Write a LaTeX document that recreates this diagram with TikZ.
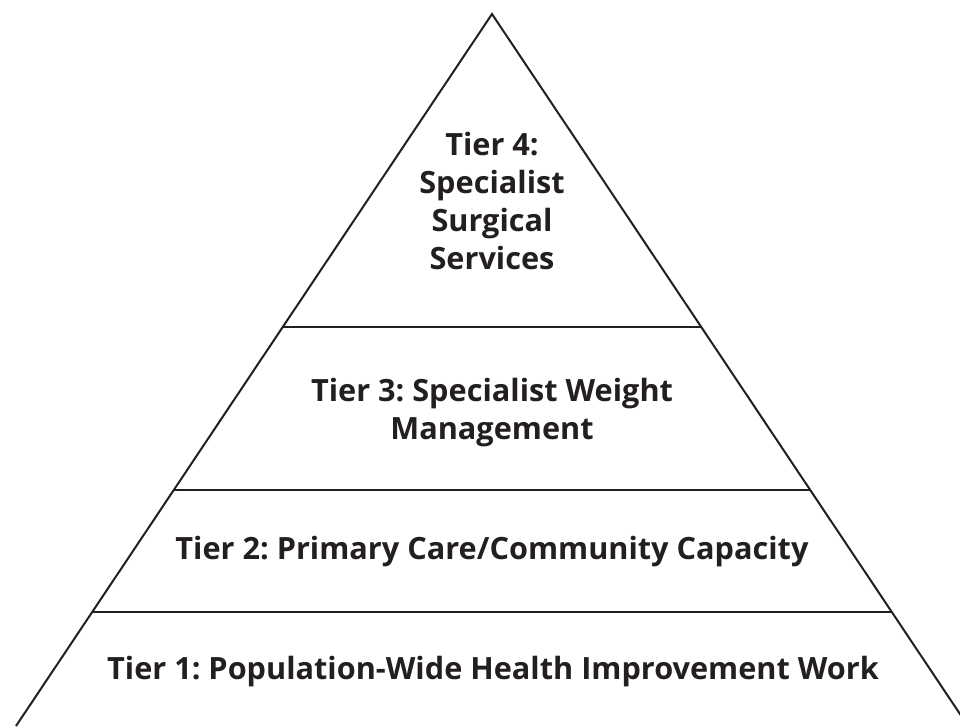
\documentclass[tikz,border=0pt]{standalone}
\usepackage{fontspec}
\setmainfont{Open Sans}
\usepackage{tikz}
\definecolor{ink}{HTML}{231F20}
\frenchspacing

\begin{document}
\begin{tikzpicture}[x=0.75pt, y=-0.75pt,
    tier/.style={text=ink, font=\bfseries\fontsize{23}{28.5}\selectfont, align=center, inner sep=0pt}]
      \useasboundingbox (0,0) rectangle (960,726);
      \clip (0,0) rectangle (960,726);
      % outline of the pyramid
      \coordinate (top) at (492,14);
      \coordinate (bl) at (16,726);
      \coordinate (br) at (968,726);
      % the three shelves
      \coordinate (a1) at (282.8,327);
      \coordinate (a2) at (701.2,327);
      \coordinate (b1) at (173.8,490);
      \coordinate (b2) at (810.2,490);
      \coordinate (c1) at (92.2,612);
      \coordinate (c2) at (891.8,612);
      \draw[ink, line width=1.5pt, line join=miter] (bl) -- (top) -- (br);
      \draw[ink, line width=1.5pt] (a1) -- (a2);
      \draw[ink, line width=1.5pt] (b1) -- (b2);
      \draw[ink, line width=1.5pt] (c1) -- (c2);
      \node[tier] (t4) at (492,201) {Tier 4:\\Specialist\\Surgical\\Services};
      \node[tier] (t3) at (492,413) {Tier 3: Specialist Weight\\Management};
      \node[tier] (t2) at (492,552) {Tier 2: Primary Care/Community Capacity};
      \node[tier] (t1) at (493,672) {Tier 1: Population-Wide Health Improvement Work};
    \end{tikzpicture}
\end{document}
